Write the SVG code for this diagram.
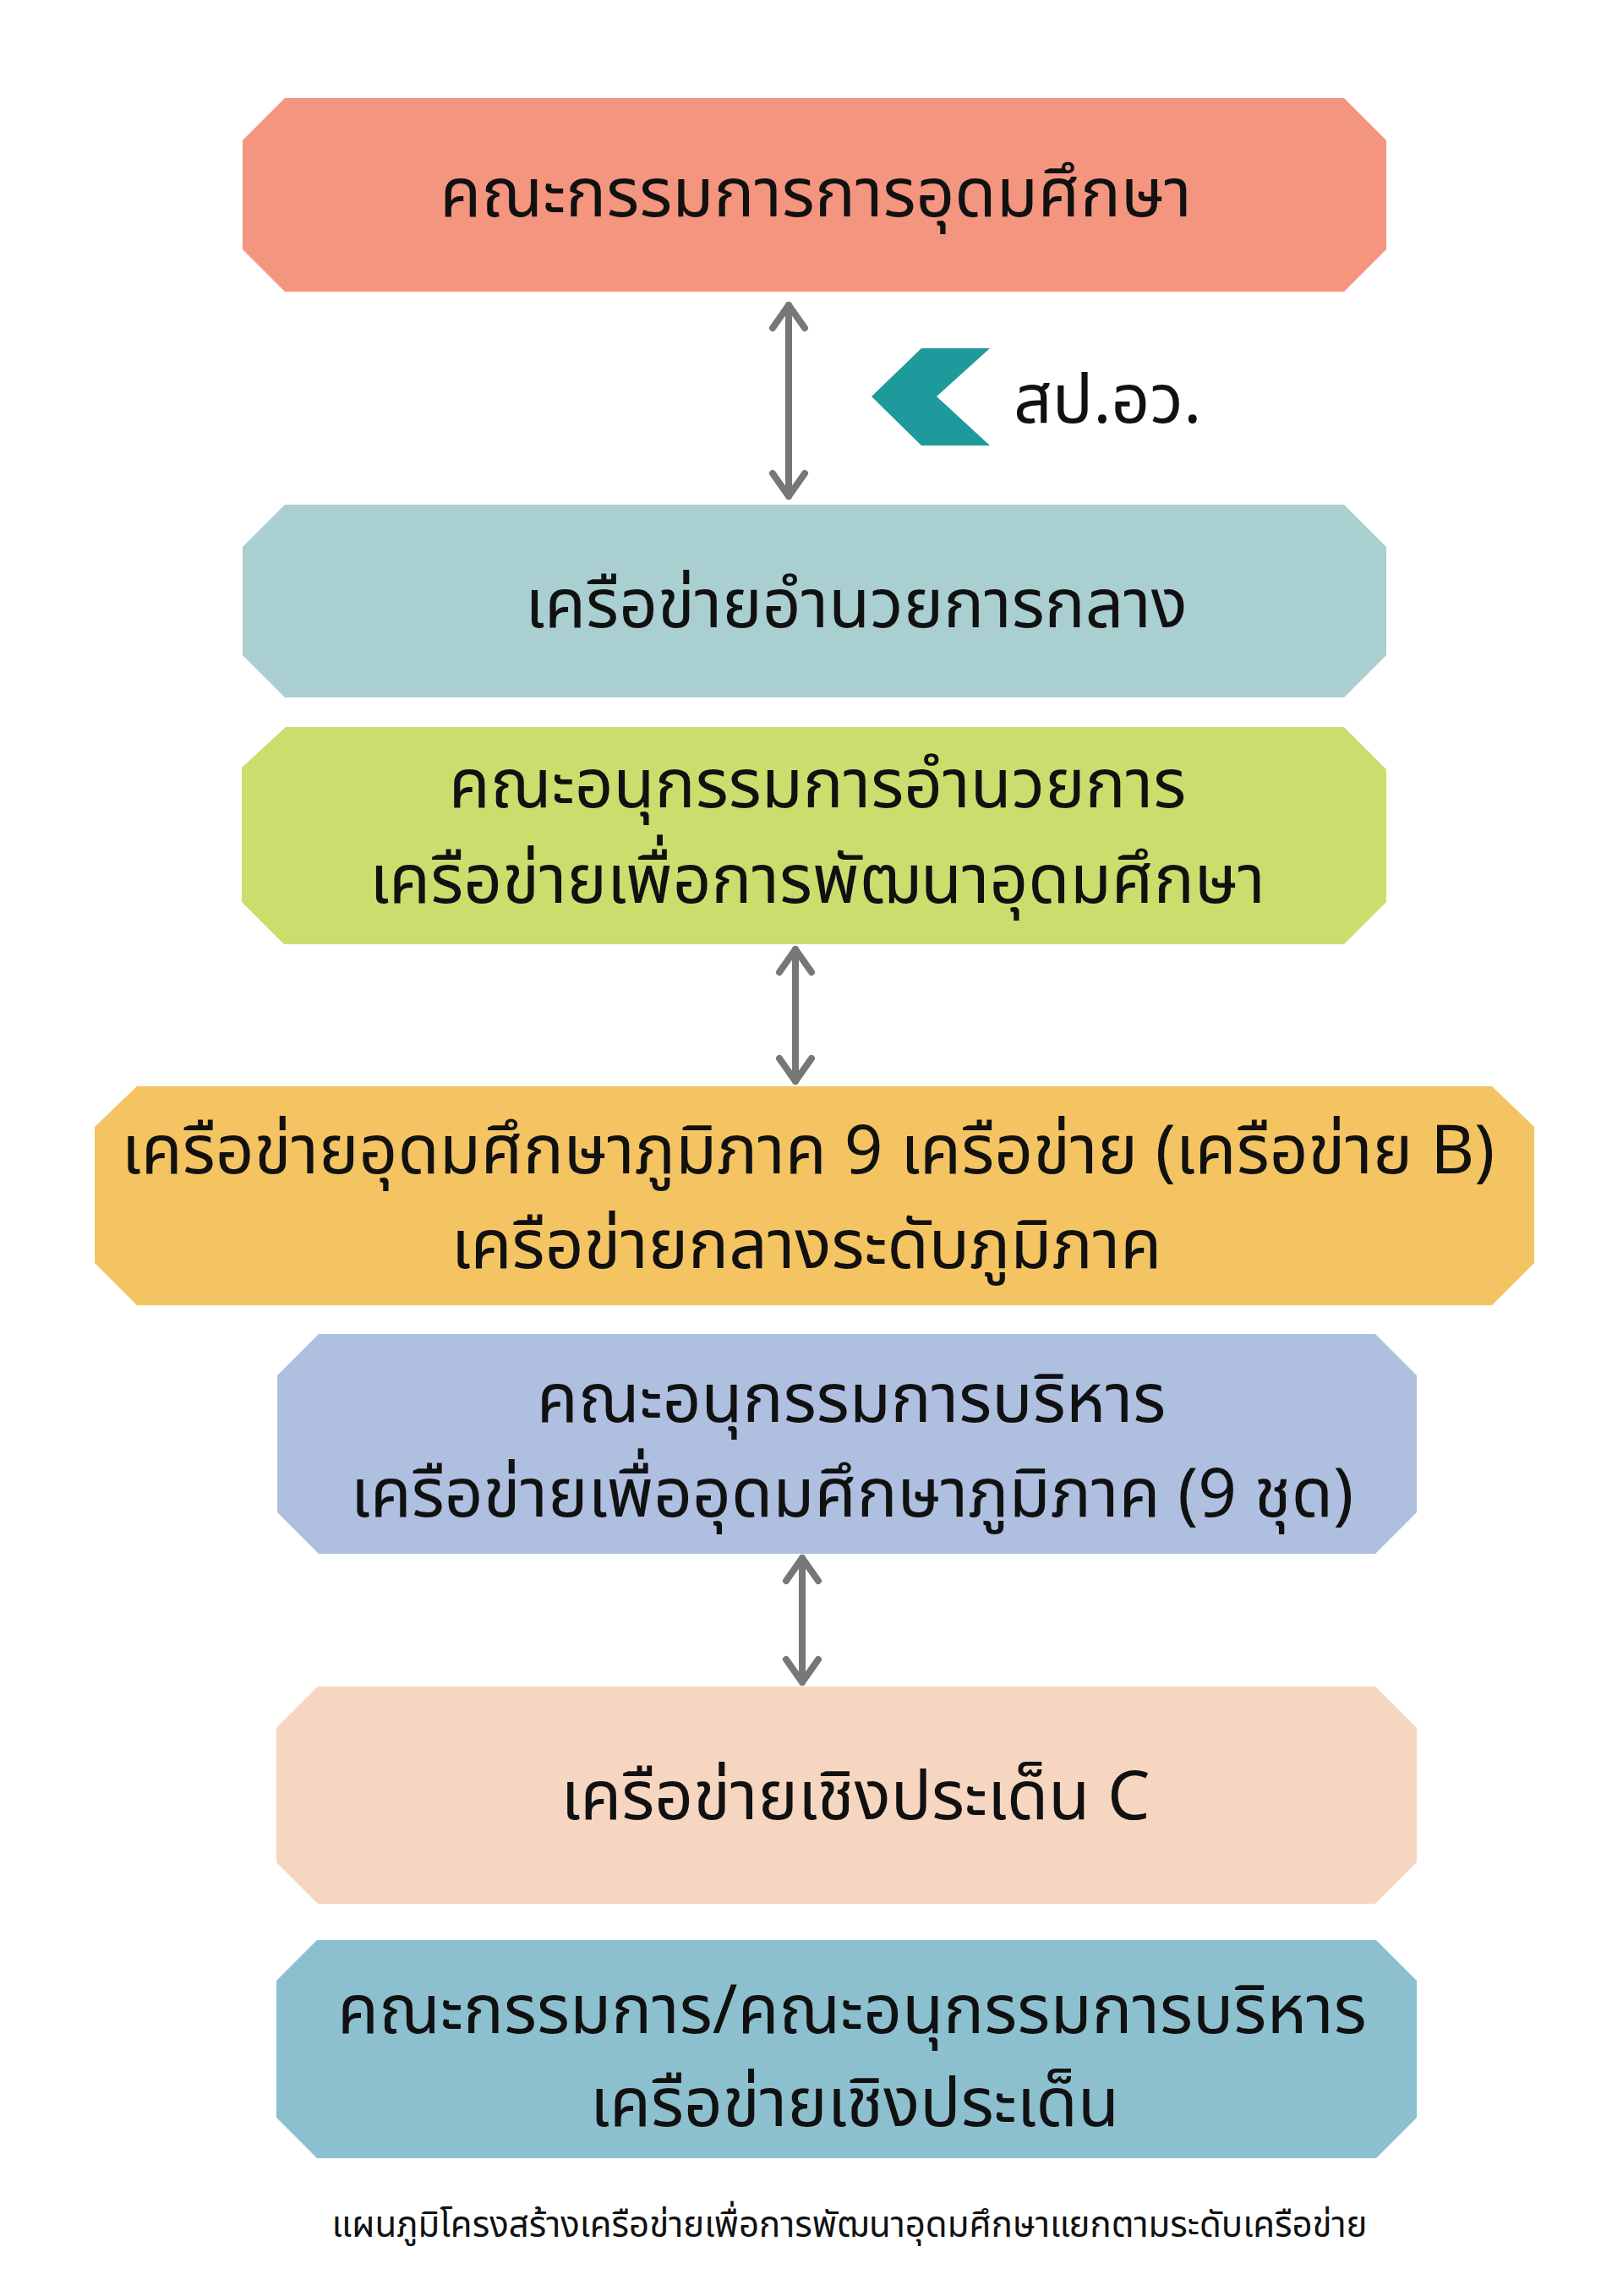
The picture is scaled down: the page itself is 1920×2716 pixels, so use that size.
<svg xmlns="http://www.w3.org/2000/svg" width="1920" height="2716" viewBox="0 0 1920 2716">
<style>
.t{font-family:"Noto Sans Thai","Noto Sans Thai UI","Kanit","Prompt","Sarabun","Noto Sans","Liberation Sans",sans-serif;font-size:80px;fill:#111;text-anchor:middle}
.cap{font-size:42px}
.arr{stroke:#777;stroke-width:8;stroke-linecap:round;fill:none}
</style>
<defs>
<marker id="ah" markerUnits="userSpaceOnUse" viewBox="-40 -30 50 60" refX="0" refY="0" markerWidth="50" markerHeight="60" orient="auto-start-reverse" overflow="visible">
<path d="M-27,-19 L0,0 L-27,19" fill="none" stroke="#777" stroke-width="8" stroke-linecap="round" stroke-linejoin="round"/>
</marker>
</defs>
<rect width="1920" height="2716" fill="#fff"/>
<g id="n1">
<polygon points="337,116 1590,116 1640,166 1640,295 1590,345 337,345 287,295 287,166" fill="#F4957F"/>
<text class="t" x="965" y="256">คณะกรรมการการอุดมศึกษา</text>
</g>
<g id="n-spa">
<polygon points="1090,412 1171,412 1108,469 1171,527 1090,527 1031,469" fill="#1E9A9C"/>
<text class="t" x="1199" y="500" style="text-anchor:start">สป.อว.</text>
</g>
<g id="n2">
<polygon points="337,597 1590,597 1640,647 1640,775 1590,825 337,825 287,775 287,647" fill="#AACFD0"/>
<text class="t" x="1013" y="742">เครือข่ายอำนวยการกลาง</text>
</g>
<g id="n3">
<polygon points="338,860 1590,860 1640,910 1640,1067 1590,1117 336,1117 286,1067 286,908" fill="#CCDD6E"/>
<text class="t" x="967" y="955">คณะอนุกรรมการอำนวยการ</text>
<text class="t" x="967" y="1068">เครือข่ายเพื่อการพัฒนาอุดมศึกษา</text>
</g>
<g id="n4">
<polygon points="162,1285 1765,1285 1815,1333 1815,1494 1765,1544 162,1544 112,1494 112,1333" fill="#F4C462"/>
<text class="t" x="956" y="1388">เครือข่ายอุดมศึกษาภูมิภาค 9 เครือข่าย (เครือข่าย B)</text>
<text class="t" x="954" y="1500">เครือข่ายกลางระดับภูมิภาค</text>
</g>
<g id="n5">
<polygon points="377,1578 1627,1578 1676,1627 1676,1789 1627,1838 377,1838 328,1789 328,1627" fill="#AEBFE0"/>
<text class="t" x="1007" y="1682">คณะอนุกรรมการบริหาร</text>
<text class="t" x="1008" y="1794">เครือข่ายเพื่ออุดมศึกษาภูมิภาค (9 ชุด)</text>
</g>
<g id="n6">
<polygon points="376,1995 1627,1995 1676,2044 1676,2203 1627,2252 376,2252 327,2203 327,2044" fill="#F7D6C1"/>
<text class="t" x="1012" y="2152">เครือข่ายเชิงประเด็น C</text>
</g>
<g id="n7">
<polygon points="375,2295 1628,2295 1676,2343 1676,2505 1628,2553 375,2553 327,2505 327,2343" fill="#8DC0CF"/>
<text class="t" x="1008" y="2405">คณะกรรมการ/คณะอนุกรรมการบริหาร</text>
<text class="t" x="1011" y="2515">เครือข่ายเชิงประเด็น</text>
</g>
<g id="caption">
<text class="t cap" x="1005" y="2646">แผนภูมิโครงสร้างเครือข่ายเพื่อการพัฒนาอุดมศึกษาแยกตามระดับเครือข่าย</text>
</g>
<g id="connectors">
<line class="arr" x1="933" y1="361" x2="933" y2="587" marker-start="url(#ah)" marker-end="url(#ah)"/>
<line class="arr" x1="941" y1="1123" x2="941" y2="1279" marker-start="url(#ah)" marker-end="url(#ah)"/>
<line class="arr" x1="949" y1="1843" x2="949" y2="1990" marker-start="url(#ah)" marker-end="url(#ah)"/>
</g>
</svg>
